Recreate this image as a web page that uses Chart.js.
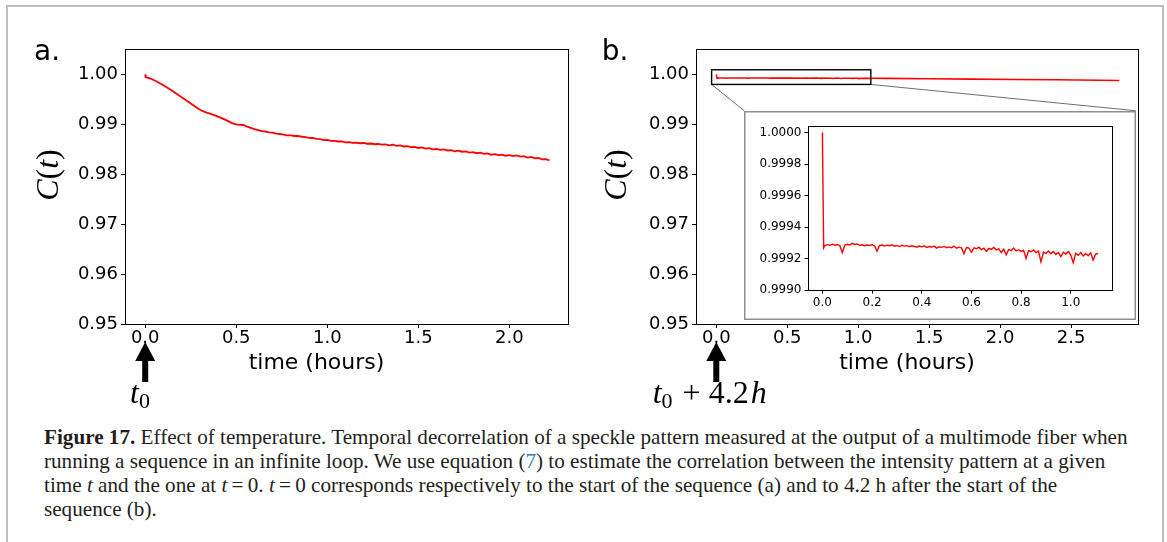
<!DOCTYPE html>
<html>
<head>
<meta charset="utf-8">
<title>Figure 17 - effect of temperature</title>
<script src="https://cdn.jsdelivr.net/npm/chart.js@4.4.1/dist/chart.umd.min.js"></script>
<style>
  html, body { margin: 0; padding: 0; background: #fff; }
  body { width: 1167px; height: 542px; position: relative; overflow: hidden; }
  #frame { position: absolute; left: 6px; top: 5px; width: 1158px; height: 600px;
           border: 2px solid #bdbdbd; border-bottom: none; box-sizing: border-box; }
  canvas { position: absolute; }
  #chartA { left: 0; top: 0; }
  #chartB { left: 580px; top: 0; }
  #chartInset { left: 744px; top: 111px; }
  #caption { position: absolute; left: 44px; top: 425px; font-family: "Liberation Serif", serif;
             font-size: 18px; color: #231f20; line-height: 24px; white-space: nowrap; }
  #caption .ref { color: #2b7ab8; }
</style>
</head>
<body>
<div id="frame"></div>
<canvas id="chartA" width="580" height="420"></canvas>
<canvas id="chartB" width="587" height="420"></canvas>
<canvas id="chartInset" width="392" height="209"></canvas>
<div id="caption">
  <div><span id="capLine1"><b>Figure 17.</b> Effect of temperature. Temporal decorrelation of a speckle pattern measured at the output of a multimode fiber when</span></div>
  <div>running a sequence in an infinite loop. We use equation (<span class="ref">7</span>) to estimate the correlation between the intensity pattern at a given</div>
  <div>time <i>t</i> and the one at <i>t</i>&#8201;=&#8201;0. <i>t</i>&#8201;=&#8201;0 corresponds respectively to the start of the sequence (a) and to 4.2 h after the start of the</div>
  <div>sequence (b).</div>
</div>
<script>
// panel a: correlation C(t) measured from t0 (hours)
const aTimes = [0, 0.002, 0.03, 0.06, 0.09, 0.12, 0.15, 0.18, 0.21, 0.24, 0.27, 0.30, 0.33, 0.36, 0.39, 0.42, 0.45, 0.48,
  0.50, 0.52, 0.54, 0.56, 0.58, 0.60, 0.62, 0.64, 0.66, 0.68, 0.70, 0.72, 0.74, 0.76, 0.78, 0.80, 0.82, 0.84, 0.86, 0.88,
  0.90, 0.92, 0.94, 0.96, 0.98, 1.00, 1.02, 1.04, 1.06, 1.08, 1.10, 1.12, 1.14, 1.16, 1.18, 1.20, 1.22, 1.24, 1.26, 1.28,
  1.30, 1.32, 1.34, 1.36, 1.38, 1.40, 1.42, 1.44, 1.46, 1.48, 1.50, 1.52, 1.54, 1.56, 1.58, 1.60, 1.62, 1.64, 1.66, 1.68,
  1.70, 1.72, 1.74, 1.76, 1.78, 1.80, 1.82, 1.84, 1.86, 1.88, 1.90, 1.92, 1.94, 1.96, 1.98, 2.00, 2.02, 2.04, 2.06, 2.08,
  2.10, 2.12, 2.14, 2.16, 2.18, 2.20, 2.22];
const aValues = [1.00000, 0.99948, 0.99918, 0.99865, 0.99805, 0.99740, 0.99670, 0.99595, 0.99520, 0.99445, 0.99370, 0.99293,
  0.99245, 0.99210, 0.99170, 0.99125, 0.99075, 0.99020,
  0.99000, 0.98988, 0.98987, 0.98953, 0.98931, 0.98904, 0.98884, 0.98863, 0.98857, 0.98841, 0.98833, 0.98815, 0.98807,
  0.98796, 0.98781, 0.98781, 0.98767, 0.98767, 0.98752, 0.98746, 0.98729, 0.98727, 0.98709, 0.98704, 0.98686, 0.98687,
  0.98671, 0.98671, 0.98657, 0.98660, 0.98641, 0.98643, 0.98628, 0.98635, 0.98622, 0.98627, 0.98612, 0.98616, 0.98602,
  0.98610, 0.98593, 0.98597, 0.98580, 0.98594, 0.98571, 0.98577, 0.98557, 0.98565, 0.98544, 0.98550, 0.98527, 0.98538,
  0.98514, 0.98523, 0.98500, 0.98510, 0.98488, 0.98500, 0.98477, 0.98485, 0.98461, 0.98475, 0.98452, 0.98459, 0.98435,
  0.98444, 0.98422, 0.98433, 0.98409, 0.98418, 0.98392, 0.98403, 0.98382, 0.98392, 0.98371, 0.98382, 0.98363, 0.98379,
  0.98354, 0.98363, 0.98335, 0.98348, 0.98320, 0.98326, 0.98297, 0.98303, 0.98278];

// inset (and start of panel b): correlation measured from t0 + 4.2 h
const insetTimes = [0, 0.005, 0.01, 0.02, 0.03, 0.04, 0.05, 0.06, 0.07, 0.08, 0.09, 0.10, 0.11, 0.12, 0.13, 0.14, 0.15,
  0.16, 0.17, 0.18, 0.19, 0.20, 0.21, 0.22, 0.23, 0.24, 0.25, 0.26, 0.27, 0.28, 0.29, 0.30, 0.31, 0.32, 0.33, 0.34, 0.35,
  0.36, 0.37, 0.38, 0.39, 0.40, 0.41, 0.42, 0.43, 0.44, 0.45, 0.46, 0.47, 0.48, 0.49, 0.50, 0.51, 0.52, 0.53, 0.54, 0.55,
  0.56, 0.57, 0.58, 0.59, 0.60, 0.61, 0.62, 0.63, 0.64, 0.65, 0.66, 0.67, 0.68, 0.69, 0.70, 0.71, 0.72, 0.73, 0.74, 0.75,
  0.76, 0.77, 0.78, 0.79, 0.80, 0.81, 0.82, 0.83, 0.84, 0.85, 0.86, 0.87, 0.88, 0.89, 0.90, 0.91, 0.92, 0.93, 0.94, 0.95,
  0.96, 0.97, 0.98, 0.99, 1.00, 1.01, 1.02, 1.03, 1.04, 1.05, 1.06, 1.07, 1.08, 1.09, 1.10, 1.11];
const insetValues = [1.000000, 0.999268, 0.999282, 0.999288, 0.999284, 0.999291, 0.999285, 0.999289, 0.999283, 0.999238,
  0.999284, 0.999290, 0.999286, 0.999296, 0.999289, 0.999293, 0.999284, 0.999287, 0.999281, 0.999286, 0.999283, 0.999288,
  0.999280, 0.999246, 0.999284, 0.999286, 0.999279, 0.999285, 0.999281, 0.999287, 0.999278, 0.999283, 0.999276, 0.999284,
  0.999279, 0.999282, 0.999275, 0.999281, 0.999277, 0.999272, 0.999279, 0.999274, 0.999281, 0.999270, 0.999276, 0.999273,
  0.999279, 0.999266, 0.999275, 0.999271, 0.999277, 0.999269, 0.999274, 0.999268, 0.999279, 0.999265, 0.999272, 0.999268,
  0.999230, 0.999270, 0.999266, 0.999240, 0.999268, 0.999262, 0.999272, 0.999257, 0.999266, 0.999245, 0.999264, 0.999258,
  0.999270, 0.999255, 0.999262, 0.999238, 0.999259, 0.999224, 0.999257, 0.999250, 0.999266, 0.999248, 0.999256, 0.999244,
  0.999252, 0.999201, 0.999250, 0.999243, 0.999255, 0.999238, 0.999247, 0.999179, 0.999240, 0.999232, 0.999248, 0.999230,
  0.999244, 0.999226, 0.999238, 0.999212, 0.999240, 0.999228, 0.999246, 0.999222, 0.999173, 0.999234, 0.999220, 0.999238,
  0.999216, 0.999232, 0.999218, 0.999236, 0.999190, 0.999228, 0.999232];

// panel b after the inset window
const bTailTimes = [1.2, 1.5, 1.8, 2.1, 2.4, 2.7, 2.84];
const bTailValues = [0.99921, 0.99914, 0.99907, 0.99900, 0.99893, 0.99884, 0.99880];

// ticks
const aXTicks = [0, 0.5, 1.0, 1.5, 2.0];
const bXTicks = [0, 0.5, 1.0, 1.5, 2.0, 2.5];
const mainYTicks = [0.95, 0.96, 0.97, 0.98, 0.99, 1.00];
const insetXTicks = [0, 0.2, 0.4, 0.6, 0.8, 1.0];
const insetYTicks = [0.9990, 0.9992, 0.9994, 0.9996, 0.9998, 1.0000];

// region of panel b that the inset magnifies, and where the inset's top edge sits (b data units)
const zoomBox = { x0: -0.033, x1: 1.089, y0: 0.99800, y1: 1.00094 };
const insetCorner = { xLeft: 0.197, xRight: 2.956, y: 0.99273 };

Chart.defaults.font.family = '"DejaVu Sans", sans-serif';
Chart.defaults.color = '#000';

const MATH_IT = 'italic 32px "Liberation Serif"';
const MATH_RM = '32px "Liberation Serif"';
const MATH_SUB = '22px "Liberation Serif"';

function drawRun(ctx, pieces, x, y) {
  // pieces drawn one after another, each with optional extra gap before it
  let cx = x;
  pieces.forEach(p => {
    ctx.font = p.font;
    cx += p.gap || 0;
    ctx.fillText(p.text, cx, y + (p.dy || 0));
    cx += ctx.measureText(p.text).width;
  });
}

function runWidth(ctx, pieces) {
  let w = 0;
  pieces.forEach(p => { ctx.font = p.font; w += (p.gap || 0) + ctx.measureText(p.text).width; });
  return w;
}

const figureDecor = {
  id: 'figureDecor',
  afterDatasetsDraw(chart, args, o) {
    if (!o.zoom) return;
    const { ctx, scales: { x, y } } = chart;
    const l = x.getPixelForValue(zoomBox.x0), r = x.getPixelForValue(zoomBox.x1);
    const t = y.getPixelForValue(zoomBox.y1), b = y.getPixelForValue(zoomBox.y0);
    const cy = y.getPixelForValue(insetCorner.y);
    ctx.save();
    ctx.strokeStyle = '#6e6e6e';
    ctx.lineWidth = 1;
    ctx.beginPath();
    ctx.moveTo(l, b); ctx.lineTo(x.getPixelForValue(insetCorner.xLeft), cy);
    ctx.moveTo(r, b); ctx.lineTo(x.getPixelForValue(insetCorner.xRight), cy);
    ctx.stroke();
    ctx.strokeStyle = '#000';
    ctx.lineWidth = 1.4;
    ctx.strokeRect(l, t, r - l, b - t);
    ctx.restore();
  },
  afterDraw(chart, args, o) {
    const { ctx, chartArea: ca, scales: { x } } = chart;
    ctx.save();
    ctx.strokeStyle = '#000';
    ctx.lineWidth = 1;
    ctx.strokeRect(Math.round(ca.left) + 0.5, Math.round(ca.top) + 0.5, Math.round(ca.width), Math.round(ca.height));
    if (!o.label) { ctx.restore(); return; }

    ctx.fillStyle = '#000';
    ctx.textBaseline = 'alphabetic';
    ctx.textAlign = 'left';
    ctx.font = '28px "DejaVu Sans"';
    ctx.fillText(o.label, o.labelX, 60);

    // x title
    ctx.textAlign = 'center';
    ctx.font = '22px "DejaVu Sans"';
    ctx.fillText('time (hours)', o.xTitleX, 369);

    // y title C(t), rotated
    ctx.textAlign = 'left';
    ctx.textBaseline = 'middle';
    const yt = [
      { text: 'C', font: MATH_IT }, { text: '(', font: MATH_RM },
      { text: 't', font: MATH_IT }, { text: ')', font: MATH_RM }
    ];
    ctx.save();
    ctx.translate(o.yTitleX, o.yTitleY);
    ctx.rotate(-Math.PI / 2);
    drawRun(ctx, yt, -runWidth(ctx, yt) / 2, 0);
    ctx.restore();

    // arrow pointing at t = 0
    const ax = x.getPixelForValue(0);
    ctx.beginPath();
    ctx.moveTo(ax, 342);
    ctx.lineTo(ax + 10, 361);
    ctx.lineTo(ax - 10, 361);
    ctx.closePath();
    ctx.fill();
    ctx.fillRect(ax - 3, 360, 6, 22);

    ctx.textBaseline = 'alphabetic';
    drawRun(ctx, o.timeLabel, o.timeLabelX, 403);
    ctx.restore();
  }
};

const insetBox = {
  id: 'insetBox',
  beforeDraw(chart) {
    const { ctx, width, height } = chart;
    ctx.save();
    ctx.fillStyle = '#fff';
    ctx.fillRect(0, 0, width, height);
    ctx.strokeStyle = '#8e8e8e';
    ctx.lineWidth = 1.5;
    ctx.strokeRect(0.75, 0.75, width - 1.5, height - 1.5);
    ctx.restore();
  }
};

function points(xs, ys) {
  return xs.map((v, i) => ({ x: v, y: ys[i] }));
}

function axes(o) {
  return {
    x: {
      type: 'linear', min: o.xMin, max: o.xMax,
      afterBuildTicks: s => { s.ticks = o.xTicks.map(v => ({ value: v })); },
      afterFit: s => { s.height = o.xHeight; },
      grid: { drawOnChartArea: false, drawTicks: true, tickLength: o.tickLen, color: '#000', lineWidth: 1 },
      border: { display: false },
      ticks: { autoSkip: false, maxRotation: 0, padding: o.xPad, font: { size: o.fontSize },
        callback: v => Number(v).toFixed(o.xDigits) }
    },
    y: {
      type: 'linear', min: o.yMin, max: o.yMax,
      afterBuildTicks: s => { s.ticks = o.yTicks.map(v => ({ value: v })); },
      afterFit: s => { s.width = o.yWidth; },
      grid: { drawOnChartArea: false, drawTicks: true, tickLength: o.tickLen, color: '#000', lineWidth: 1 },
      border: { display: false },
      ticks: { autoSkip: false, padding: 3, font: { size: o.fontSize },
        callback: v => Number(v).toFixed(o.yDigits) }
    }
  };
}

function lineSet(data, width) {
  return { data: data, borderColor: '#ff0000', borderWidth: width, pointRadius: 0, tension: 0, fill: false };
}

const common = {
  responsive: false,
  animation: false,
  events: [],
  plugins: { legend: { display: false }, tooltip: { enabled: false } }
};

new Chart(document.getElementById('chartA'), {
  type: 'line',
  data: { datasets: [lineSet(points(aTimes, aValues), 1.8)] },
  plugins: [figureDecor],
  options: {
    ...common,
    layout: { padding: { left: 0, top: 49, right: 12, bottom: 0 } },
    scales: axes({ xMin: -0.111, xMax: 2.322, yMin: 0.95, yMax: 1.0051, xTicks: aXTicks, yTicks: mainYTicks,
      xHeight: 96, yWidth: 125, tickLen: 4, xPad: 0, fontSize: 18, xDigits: 1, yDigits: 2 }),
    plugins: {
      ...common.plugins,
      figureDecor: {
        label: 'a.', labelX: 34, xTitleX: 316.5, yTitleX: 50, yTitleY: 175,
        timeLabelX: 130,
        timeLabel: [{ text: 't', font: MATH_IT }, { text: '0', font: MATH_SUB, dy: 5 }]
      }
    }
  }
});

new Chart(document.getElementById('chartB'), {
  type: 'line',
  data: { datasets: [lineSet(points(insetTimes.concat(bTailTimes), insetValues.concat(bTailValues)), 1.6)] },
  plugins: [figureDecor],
  options: {
    ...common,
    layout: { padding: { left: 0, top: 49, right: 29, bottom: 0 } },
    scales: axes({ xMin: -0.143, xMax: 2.972, yMin: 0.95, yMax: 1.0051, xTicks: bXTicks, yTicks: mainYTicks,
      xHeight: 96, yWidth: 116, tickLen: 4, xPad: 0, fontSize: 18, xDigits: 1, yDigits: 2 }),
    plugins: {
      ...common.plugins,
      figureDecor: {
        label: 'b.', labelX: 21.7, xTitleX: 327, yTitleX: 37.5, yTitleY: 175, zoom: true,
        timeLabelX: 72.7,
        timeLabel: [
          { text: 't', font: MATH_IT }, { text: '0', font: MATH_SUB, dy: 5 },
          { text: '+', font: MATH_RM, gap: 10 }, { text: '4.2', font: MATH_RM, gap: 8 },
          { text: 'h', font: MATH_IT, gap: 2 }
        ]
      }
    }
  }
});

new Chart(document.getElementById('chartInset'), {
  type: 'line',
  data: { datasets: [lineSet(points(insetTimes, insetValues), 1.4)] },
  plugins: [insetBox, figureDecor],
  options: {
    ...common,
    layout: { padding: { left: 0, top: 15, right: 24, bottom: 0 } },
    scales: axes({ xMin: -0.058, xMax: 1.166, yMin: 0.9990, yMax: 1.000042, xTicks: insetXTicks, yTicks: insetYTicks,
      xHeight: 30, yWidth: 64, tickLen: 3.5, xPad: 2, fontSize: 12, xDigits: 1, yDigits: 4 }),
    plugins: { ...common.plugins, figureDecor: {} }
  }
});

// size the caption so its first line spans the same width as in the figure
const cap = document.getElementById('caption');
const line1 = document.getElementById('capLine1');
const captionWidth = 1084;
const w18 = line1.getBoundingClientRect().width;
cap.style.fontSize = (18 * captionWidth / w18).toFixed(2) + 'px';
</script>
</body>
</html>
